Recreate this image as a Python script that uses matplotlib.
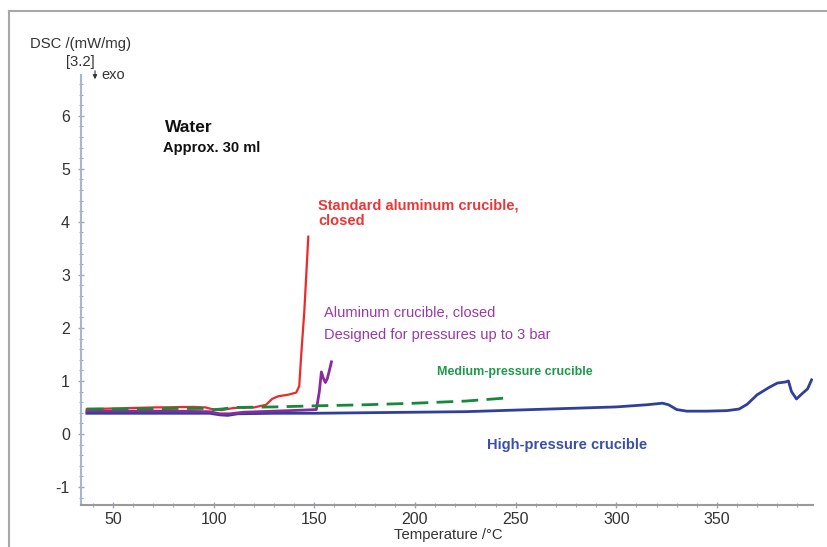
import matplotlib
matplotlib.use("Agg")
import matplotlib.pyplot as plt
from matplotlib.lines import Line2D
from matplotlib.patches import FancyArrowPatch
from matplotlib.ticker import MultipleLocator

plt.rcParams['font.family'] = ['Liberation Sans', 'DejaVu Sans']
plt.rcParams['axes.unicode_minus'] = False

# ---- data ----
red_t = [37, 50, 70, 90, 96, 100, 104, 110, 120, 126, 129, 132, 137, 141, 142.5, 143.5, 145, 146, 147]
red_v = [0.47, 0.48, 0.50, 0.51, 0.50, 0.46, 0.45, 0.49, 0.50, 0.55, 0.66, 0.71, 0.74, 0.78, 0.90, 1.50, 2.30, 3.00, 3.72]

purple_t = [37, 60, 80, 98, 103, 108, 115, 130, 145, 151, 152.5, 153.5, 154.5, 155.5, 156.5, 157.5, 158.5]
purple_v = [0.43, 0.43, 0.43, 0.42, 0.38, 0.38, 0.41, 0.43, 0.45, 0.46, 0.80, 1.17, 1.05, 0.97, 1.05, 1.20, 1.36]

green_t = [37, 60, 80, 95, 100, 104, 110, 130, 150, 175, 200, 225, 246]
green_v = [0.47, 0.47, 0.48, 0.48, 0.46, 0.47, 0.50, 0.51, 0.53, 0.55, 0.58, 0.62, 0.68]

blue_t = [37, 60, 80, 98, 103, 107, 112, 130, 150, 175, 200, 225, 250, 275, 300, 315, 323, 326,
          330, 335, 345, 355, 361, 365, 370, 376, 380, 384, 385.5, 387, 389.5, 392, 395, 397]
blue_v = [0.39, 0.39, 0.39, 0.39, 0.36, 0.35, 0.38, 0.39, 0.39, 0.40, 0.41, 0.42, 0.45, 0.48, 0.51, 0.55, 0.58, 0.55,
          0.46, 0.43, 0.43, 0.44, 0.47, 0.56, 0.74, 0.88, 0.96, 0.98, 1.00, 0.80, 0.66, 0.75, 0.85, 1.02]

x_ticks = [50, 100, 150, 200, 250, 300, 350]
y_ticks = [-1, 0, 1, 2, 3, 4, 5, 6]

W, H = 827, 547
fig = plt.figure(figsize=(W / 100, H / 100), dpi=100)

def fx(x):
    return x / W

def fy(y):
    return 1 - y / H

ax = fig.add_axes([fx(81), fy(505), (813 - 81) / W, (505 - 75) / H])

ax.plot(blue_t, blue_v, color='#2f3f9c', lw=2.0, zorder=2)
ax.plot(purple_t, purple_v, color='#8a2a9c', lw=2.0, zorder=3)
ax.plot(red_t, red_v, color='#ec2a2a', lw=1.6, zorder=4)
ax.plot(green_t, green_v, color='#17893a', lw=2.0, dashes=(6, 3), zorder=5)

ax.set_xlim(34.1, 397.7)
ax.set_ylim(-1.34, 6.77)
ax.set_xticks(x_ticks)
ax.set_yticks(y_ticks)
ax.xaxis.set_minor_locator(MultipleLocator(10))
ax.yaxis.set_minor_locator(MultipleLocator(0.2))

for s in ['top', 'right']:
    ax.spines[s].set_visible(False)
ax.spines['left'].set_color('#aab4cc')
ax.spines['bottom'].set_color('#9a9a9a')
ax.spines['left'].set_linewidth(1.5)
ax.spines['bottom'].set_linewidth(1.5)
ax.tick_params(axis='both', which='both', direction='inout', colors='#9aa6c0', labelcolor='#333333')
ax.tick_params(axis='both', which='major', length=4, width=1, labelsize=11.5)
ax.tick_params(axis='both', which='minor', length=3, width=0.8)
ax.tick_params(axis='y', pad=6)
ax.tick_params(axis='x', pad=3)

# outer frame (top and left only visible)
fig.add_artist(Line2D([fx(9), fx(9)], [0, fy(11)], color='#a8a8a8', lw=1.5))
fig.add_artist(Line2D([fx(9), 1], [fy(11), fy(11)], color='#a8a8a8', lw=1.5))

# axis titles
fig.text(fx(81), fy(44), 'DSC /(mW/mg)', ha='center', va='center', fontsize=10.7, color='#333333')
fig.text(fx(80), fy(62), '[3.2]', ha='center', va='center', fontsize=10.7, color='#333333')
fig.text(fx(101), fy(75), 'exo', ha='left', va='center', fontsize=10.5, color='#333333')
fig.add_artist(FancyArrowPatch((fx(95), fy(68)), (fx(95), fy(82)),
               transform=fig.transFigure, arrowstyle='-|>', mutation_scale=6, color='#333333', lw=0.8))
fig.text(fx(448), fy(535), 'Temperature /°C', ha='center', va='center', fontsize=10.7, color='#333333')

# annotations
fig.text(fx(165), fy(128), 'Water', ha='left', va='center', fontsize=12.5, fontweight='bold', color='#111111')
fig.text(fx(163), fy(148), 'Approx. 30 ml', ha='left', va='center', fontsize=10.5, fontweight='bold', color='#111111')
fig.text(fx(318), fy(205), 'Standard aluminum crucible,', ha='left', va='center', fontsize=10.5, fontweight='bold', color='#e83838')
fig.text(fx(318), fy(221), 'closed', ha='left', va='center', fontsize=10.5, fontweight='bold', color='#e83838')
fig.text(fx(324), fy(313), 'Aluminum crucible, closed', ha='left', va='center', fontsize=10.5, color='#9a38a8')
fig.text(fx(324), fy(335), 'Designed for pressures up to 3 bar', ha='left', va='center', fontsize=10.5, color='#9a38a8')
fig.text(fx(437), fy(372), 'Medium-pressure crucible', ha='left', va='center', fontsize=9, fontweight='bold', color='#1e9a4a')
fig.text(fx(487), fy(445), 'High-pressure crucible', ha='left', va='center', fontsize=10.5, fontweight='bold', color='#3a4faa')

fig.savefig('out.png', dpi=100)
